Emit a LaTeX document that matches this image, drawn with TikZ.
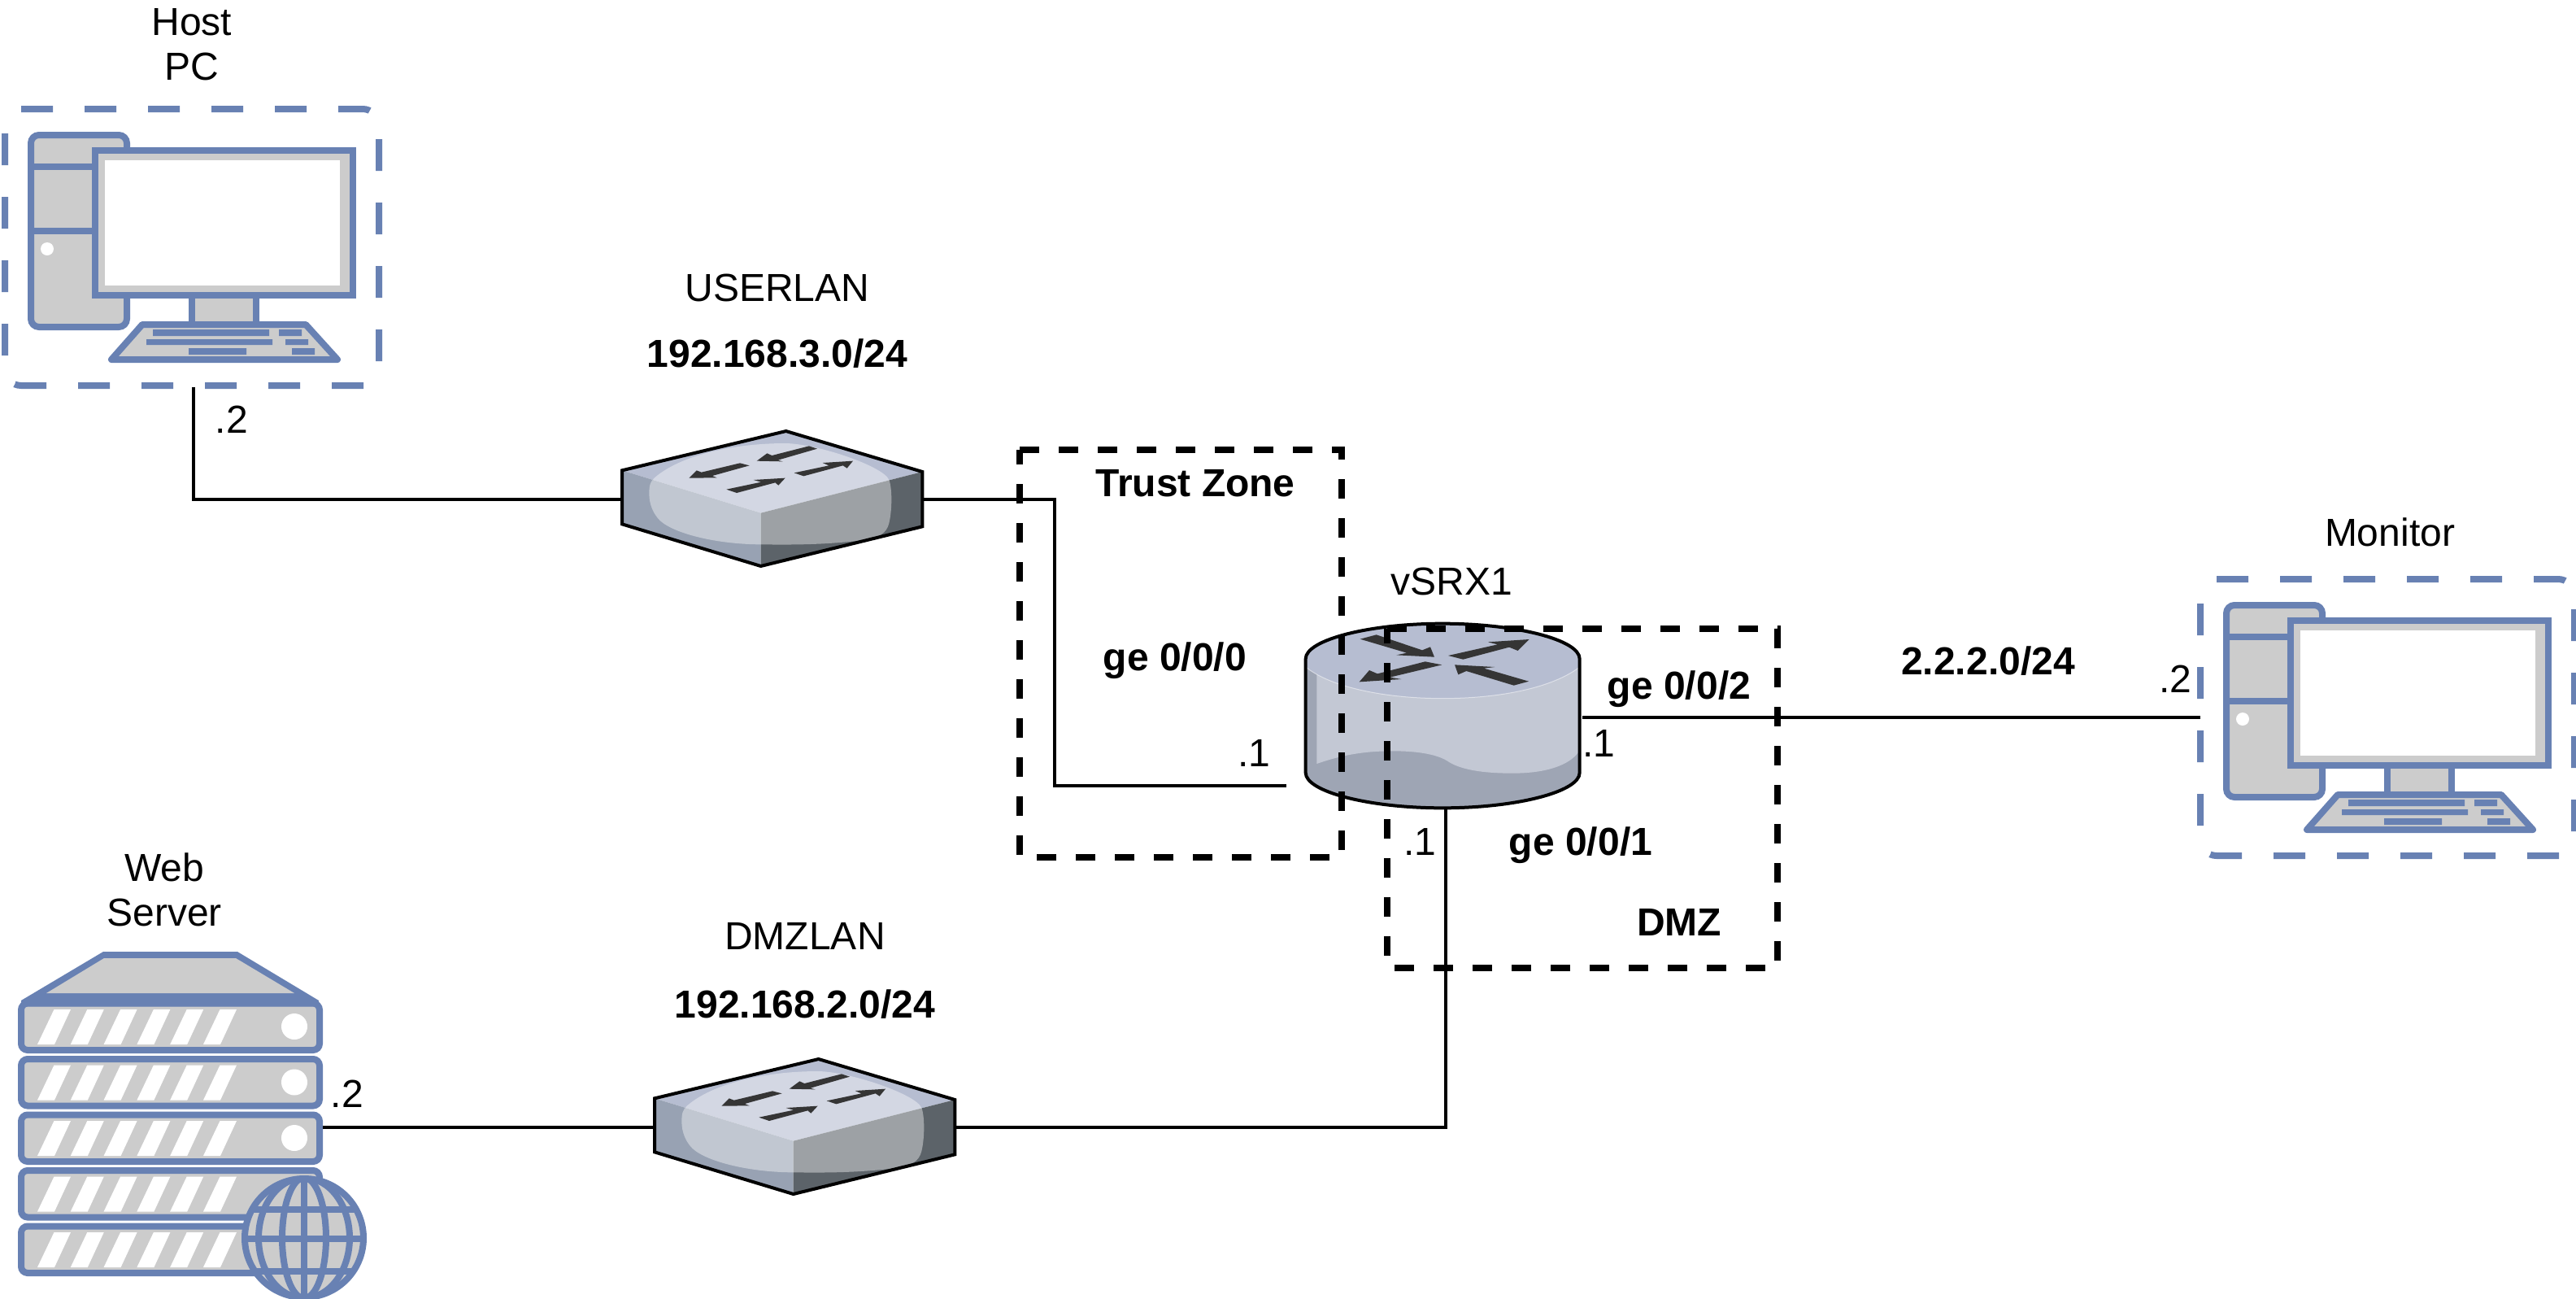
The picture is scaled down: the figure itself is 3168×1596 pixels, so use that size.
\documentclass[tikz,border=0pt]{standalone}
\usepackage{fontspec}
\setmainfont{Liberation Sans}
\definecolor{iconblue}{HTML}{6881B3}
\definecolor{icongray}{HTML}{CCCCCC}
\definecolor{swtop}{HTML}{B6BDD1}
\definecolor{swleft}{HTML}{98A2B3}
\definecolor{swright}{HTML}{5C6369}
\definecolor{rtside}{HTML}{C3C8D4}
\definecolor{rtdark}{HTML}{9EA5B4}
\definecolor{arrowdark}{HTML}{353535}
\tikzset{
  x=0.5pt,y=-0.5pt,
  lbl/.style={font=\fontsize{24}{27.5}\selectfont,inner sep=0pt,align=center,text=black},
  blbl/.style={lbl,font=\fontsize{24}{27.5}\selectfont\bfseries},
  wire/.style={draw=black,line width=2pt},
  zone/.style={draw=black,line width=4pt,dash pattern=on 12pt off 12pt,miter limit=10},
  hostzone/.style={draw=iconblue,line width=4pt,dash pattern=on 19.5pt off 19.5pt},
  iconline/.style={draw=iconblue,line width=4pt},
  iconfill/.style={iconline,fill=icongray},
  key/.style={fill=iconblue},
  arr/.style={fill=arrowdark},
}
\newcommand{\pcicon}[2]{%
\begin{scope}[shift={(#1,#2)}]
  \draw[hostzone]
    (26,134) -- (446,134) .. controls (457,134) and (466,143) .. (466,154)
    (466,171) -- (466,454)
    (447,474) -- (26,474) .. controls (15,474) and (6,465) .. (6,454)
    (6,437) -- (6,154);
  \draw[iconfill,rounded corners=5pt] (38,166) rectangle (156,402);
  \draw[iconline] (38,205) -- (117,205) (38,284) -- (117,284);
  \fill[white] (58,306) circle[radius=8];
  \draw[iconfill,miter limit=10] (117,185) rectangle (434,363);
  \fill[white] (129,197) rectangle (418,351);
  \draw[iconfill] (236,363) rectangle (315,399);
  \draw[iconfill,line join=round] (175,399) -- (376,399) -- (415,442) -- (137,442) -- cycle;
  \fill[key] (188,405) rectangle (331,413) (343,405) rectangle (371,413);
  \fill[key] (180,417) rectangle (335,424) (351,417) rectangle (379,424);
  \fill[key] (232,428) rectangle (303,436) (359,428) rectangle (387,436);
\end{scope}}
\newcommand{\switchicon}[2]{%
\begin{scope}[shift={(740+#1,510+#2)},scale=0.33333]
  \fill[swtop] (680,60) -- (1183,210) -- (587,362) -- (75,205) -- cycle;
  \fill[swleft] (75,205) -- (587,362) -- (587,558) -- (75,403) -- cycle;
  \fill[swright] (587,362) -- (1183,210) -- (1183,412) -- (587,558) -- cycle;
  \fill[white,opacity=0.4] (175,290) .. controls (175,260) and (180,245) .. (195,232) .. controls (290,150) and (480,105) .. (680,105) .. controls (800,108) and (1040,190) .. (1060,240) .. controls (1072,270) and (1072,350) .. (1060,400) .. controls (1050,440) and (1020,450) .. (980,460) .. controls (850,478) and (720,480) .. (590,478) .. controls (430,478) and (270,440) .. (215,390) .. controls (190,365) and (175,330) .. (175,290) -- cycle;
  \fill[arr] (765,115) -- (795,125) -- (650,167) -- (668,172) -- (572,170) -- (610,142) -- (628,150) -- cycle;
  \fill[arr] (510,178) -- (545,187) -- (408,225) -- (425,232) -- (322,233) -- (350,205) -- (368,212) -- cycle;
  \fill[arr] (460,275) -- (498,288) -- (640,250) -- (652,260) -- (677,233) -- (560,240) -- (588,248) -- cycle;
  \fill[arr] (710,214) -- (745,226) -- (890,187) -- (905,197) -- (927,170) -- (815,177) -- (838,187) -- cycle;
  \draw[black,line width=2pt,line join=miter] (680,60) -- (1183,210) -- (1183,412) -- (587,558) -- (75,403) -- (75,205) -- cycle;
\end{scope}}
\begin{document}
\begin{tikzpicture}
\path[use as bounding box,clip] (0,0) rectangle (3168,1596);
\fill[white] (0,0) rectangle (3168,1596);

% ---- hosts
\pcicon{0}{0}
\pcicon{2700}{578}
\coordinate (pc1port) at (238,476);
\coordinate (pc2port) at (2706,882);

% ---- switches
\switchicon{0}{0}
\switchicon{40}{772}
\coordinate (sw1w) at (765,614);
\coordinate (sw1e) at (1134,614);
\coordinate (sw2w) at (805,1386);
\coordinate (sw2e) at (1174,1386);

% ---- router
\begin{scope}[shift={(1560,740)},scale=0.33333]
  \fill[rtdark] (137,210) .. controls (137,140) and (370,80) .. (642,80) .. controls (915,80) and (1148,140) .. (1148,210) -- (1148,630) .. controls (1148,700) and (915,760) .. (642,760) .. controls (370,760) and (137,700) .. (137,630) -- cycle;
  \fill[rtside] (178,255) -- (178,597) .. controls (270,565) and (350,550) .. (460,550) .. controls (560,550) and (630,565) .. (665,590) .. controls (720,625) and (820,632) .. (900,632) .. controls (1030,632) and (1110,600) .. (1143,555) -- (1143,240) -- cycle;
  \fill[swtop] (137,210) .. controls (137,140) and (370,80) .. (642,80) .. controls (915,80) and (1148,140) .. (1148,210) -- (1148,240) .. controls (1050,315) and (860,356) .. (642,356) .. controls (430,356) and (230,315) .. (137,240) -- cycle;
  \draw[white,opacity=0.5,line width=0.5pt] (1148,240) .. controls (1050,315) and (860,356) .. (642,356) .. controls (430,356) and (230,315) .. (137,240);
  \fill[arr] (338,137) -- (398,121) -- (567,178) -- (597,166) -- (612,203) -- (472,196) -- (510,188) -- cycle;
  \fill[arr] (663,198) -- (718,212) -- (888,167) -- (920,180) -- (962,138) -- (810,148) -- (845,157) -- cycle;
  \fill[arr] (578,220) -- (640,232) -- (448,278) -- (490,285) -- (335,295) -- (372,252) -- (402,265) -- cycle;
  \fill[arr] (687,232) -- (835,240) -- (795,245) -- (960,293) -- (905,308) -- (730,255) -- (700,268) -- cycle;
  \draw[black,line width=2pt] (137,210) .. controls (137,140) and (370,80) .. (642,80) .. controls (915,80) and (1148,140) .. (1148,210) -- (1148,630) .. controls (1148,700) and (915,760) .. (642,760) .. controls (370,760) and (137,700) .. (137,630) -- cycle;
\end{scope}
\coordinate (rtw) at (1582,966);
\coordinate (rts) at (1778,993);
\coordinate (rte) at (1946,882);

% ---- web server
\foreach \i in {0,...,4}{
  \begin{scope}[shift={(0,68.5*\i)}]
    \draw[iconfill,rounded corners=4pt] (26,1233.5) rectangle (393,1291);
    \foreach \j in {0,...,5}{
      \fill[white] (46+40.8*\j,1284) -- (66.5+40.8*\j,1241) -- (87+40.8*\j,1241) -- (67+40.8*\j,1284) -- cycle;
    }
  \end{scope}
}
\foreach \i in {0,1,2}{
  \fill[white] (362,1262+68.5*\i) circle[radius=16];
}
\fill[iconblue] (127,1170) -- (292,1170) -- (392,1230) -- (392,1237) -- (26,1237) -- (26,1230) -- cycle;
\fill[icongray] (128,1178) -- (290,1178) -- (362,1221) -- (57,1221) -- cycle;
\coordinate (srvport) at (397,1386);
% globe
\begin{scope}
  \fill[icongray] (374,1522) circle[radius=73];
  \clip (374,1522) circle[radius=73];
  \draw[iconline] (300,1487) -- (450,1487) (300,1523) -- (450,1523) (300,1563) -- (450,1563) (374,1440) -- (374,1600);
  \draw[iconline] (374,1522) ellipse[x radius=27,y radius=74];
  \draw[iconline] (374,1522) ellipse[x radius=56,y radius=74];
\end{scope}
\draw[iconline] (374,1522) circle[radius=73];

% ---- connectors
\draw[wire] (pc1port) |- (sw1w);
\draw[wire] (sw1e) -- ++(163,0) |- (rtw);
\draw[wire] (srvport) -- (sw2w);
\draw[wire] (sw2e) -| (rts);
\draw[wire] (rte) -- (pc2port);

% ---- zones
\draw[zone] (1254,553) -- (1650,553) -- (1650,1054) -- (1254,1054) -- cycle;
\draw[zone] (1706,773) -- (2186,773) -- (2186,1190) -- (1706,1190) -- cycle;

% ---- labels
\node[lbl] (lhost) at (236,55) {Host\\PC};
\node[lbl] (lweb) at (202,1094) {Web\\Server};
\node[lbl,anchor=base] (luser) at (956,370) {USERLAN};
\node[blbl,anchor=base] (lnet3) at (956,451) {192.168.3.0/24};
\node[lbl,anchor=base] (ldot2a) at (285,532) {.2};
\node[blbl,anchor=base] (ltrust) at (1470,610) {Trust Zone};
\node[blbl,anchor=base] (lge0) at (1445,824) {ge 0/0/0};
\node[lbl,anchor=base] (ldot1a) at (1542,942) {.1};
\node[lbl,anchor=base] (lsrx) at (1785,731) {vSRX1};
\node[blbl,anchor=base] (lge2) at (2065,859) {ge 0/0/2};
\node[lbl,anchor=base] (ldot1b) at (1966,930) {.1};
\node[blbl,anchor=base] (lnet2) at (2445,829) {2.2.2.0/24};
\node[lbl,anchor=base] (ldot2b) at (2675,851) {.2};
\node[lbl,anchor=base] (lmon) at (2939,671) {Monitor};
\node[lbl,anchor=base] (ldot1c) at (1746,1051) {.1};
\node[blbl,anchor=base] (lge1) at (1944,1051) {ge 0/0/1};
\node[blbl,anchor=base] (ldmz) at (2065,1150) {DMZ};
\node[lbl,anchor=base] (ldmzlan) at (990,1167) {DMZLAN};
\node[blbl,anchor=base] (lnet22) at (990,1251) {192.168.2.0/24};
\node[lbl,anchor=base] (ldot2c) at (427,1361) {.2};
\end{tikzpicture}
\end{document}
